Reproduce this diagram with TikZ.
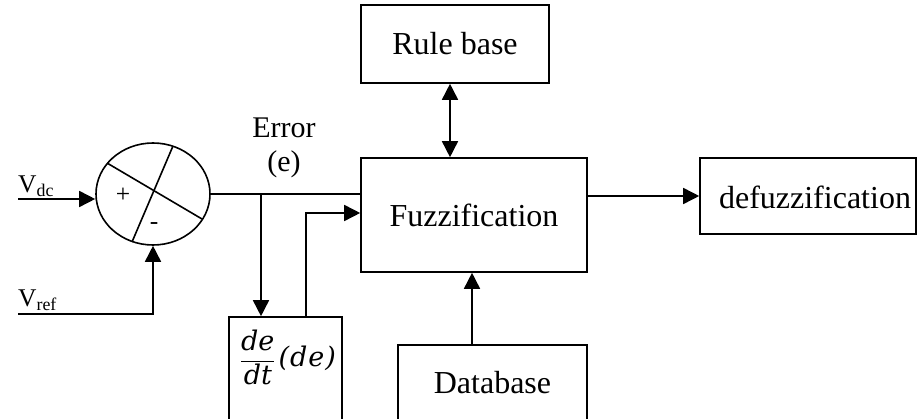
\documentclass[tikz,border=0pt]{standalone}
\usepackage{fontspec}
\setmainfont{Liberation Serif}
\newfontfamily\mathletters{DejaVu Serif}
\usetikzlibrary{arrows.meta,shapes.geometric,calc}
\tikzset{
  blk/.style={draw,line width=1.6pt,inner sep=0pt},
  wire/.style={line width=1.6pt},
  arr/.style={wire,-{Triangle[length=16pt,width=16pt]}},
  darr/.style={wire,{Triangle[length=16pt,width=16pt]}-{Triangle[length=16pt,width=16pt]}},
  bigtxt/.style={font=\fontsize{32}{36}\selectfont,inner sep=0pt},
  midtxt/.style={font=\fontsize{30}{34}\selectfont,inner sep=0pt},
  sigtxt/.style={font=\fontsize{25.5}{28}\selectfont,inner sep=0pt},
}
\newcommand{\dv}[1]{\hbox{\mathletters\itshape\fontsize{27}{30}\selectfont #1}}
\begin{document}
\begin{tikzpicture}[x=1pt,y=-1pt]
\useasboundingbox (0,0) rectangle (917,419);

% blocks
\node[blk,minimum width=188pt,minimum height=78pt,bigtxt] (rule) at (455,44) {Rule base};
\node[blk,minimum width=226pt,minimum height=114pt,bigtxt] (fuzz) at (474,215) {Fuzzification};
\node[blk,minimum width=216pt,minimum height=76pt] (defuzz) at (808,196) {};
\node[bigtxt] (defuzztxt) at (815,197) {defuzzification};
\node[blk,minimum width=189pt,minimum height=75pt,bigtxt] (db) at (492.5,382.5) {Database};
\node[blk,minimum width=113pt,minimum height=103pt] (deriv) at (285.5,368.5) {};
\node[inner sep=0pt,font=\fontsize{27}{30}\selectfont] (derivtxt) at (288,357)
  {$\displaystyle\frac{\dv{de}}{\dv{dt}}\kern3pt\dv{(\kern1pt d\kern1pt e\kern1pt)}$};

% summing junction
\node[draw,line width=1.6pt,ellipse,minimum width=114pt,minimum height=102pt,inner sep=0pt] (sum) at (153,194) {};
\draw[wire] (107,163) -- (202,219);
\draw[wire] (173,146) -- (132,242);
\node[sigtxt] (plus) at (123,195) {+};
\node[sigtxt] (minus) at (154,226) {-};

% signal labels
\node[sigtxt,anchor=south west] (vdc) at (18,197) {V\textsubscript{dc}};
\node[sigtxt,anchor=south west] (vref) at (18,311) {V\textsubscript{ref}};
\node[midtxt] (err) at (284,128) {Error};
\node[midtxt] (errsym) at (284,164) {(e)};

% connectors
\coordinate (vdcin) at (18,199);
\coordinate (vrefin) at (18,314);
\coordinate (br) at (261,194);
\coordinate (dout) at (306,317);

\draw[arr] (vdcin) -- (vdcin -| sum.west);
\draw[arr] (vrefin) -| (sum.south);
\draw[wire] (sum.east) -- (sum.east -| fuzz.west);
\draw[arr] (br) -- (br |- deriv.north);
\draw[arr] (dout) |- ([yshift=2pt]fuzz.west);
\draw[darr] ([xshift=-5pt]rule.south) -- ([xshift=-5pt]rule.south |- fuzz.north);
\draw[arr] ([xshift=-2pt]fuzz.south |- db.north) -- ([xshift=-2pt]fuzz.south);
\draw[arr] (fuzz.east |- defuzz.west) -- (defuzz.west);
\end{tikzpicture}
\end{document}
